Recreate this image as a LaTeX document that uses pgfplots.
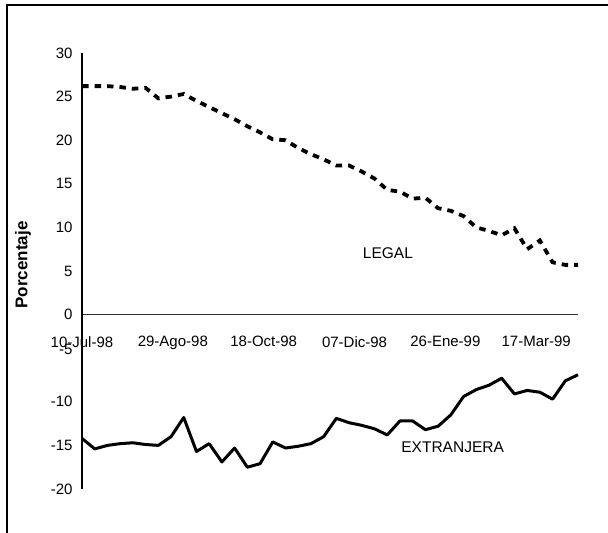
\documentclass[border=0pt]{standalone}
\usepackage{pgfplots}
\pgfplotsset{compat=1.18}
\usepackage{pgfplotstable}
\usepackage{fontspec}
\setmainfont{Liberation Sans}

\pgfplotstableread{
d v
0 26.2
7 26.2
14 26.2
21 26.1
28 25.9
35 26.0
42 24.8
49 25.0
56 25.3
63 24.5
70 23.8
77 23.1
84 22.4
91 21.6
98 20.9
105 20.1
112 20.0
119 19.1
126 18.4
133 17.8
140 17.1
147 17.1
154 16.4
161 15.6
168 14.3
175 14.1
182 13.3
189 13.4
196 12.2
203 11.9
210 11.3
217 10.0
224 9.6
231 9.1
238 9.9
245 7.5
252 8.5
259 6.0
266 5.7
273 5.7
}\legal

\pgfplotstableread{
d v
0 -14.2
7 -15.4
14 -15.0
21 -14.8
28 -14.7
35 -14.9
42 -15.0
49 -14.0
56 -11.8
63 -15.7
70 -14.8
77 -16.9
84 -15.3
91 -17.5
98 -17.1
105 -14.6
112 -15.3
119 -15.1
126 -14.8
133 -14.0
140 -11.9
147 -12.4
154 -12.7
161 -13.1
168 -13.8
175 -12.2
182 -12.2
189 -13.2
196 -12.8
203 -11.5
210 -9.4
217 -8.6
224 -8.1
231 -7.3
238 -9.1
245 -8.7
252 -8.9
259 -9.7
266 -7.6
273 -6.9
}\extranjera

\begin{document}
\begin{tikzpicture}[x=1pt,y=1pt]
\useasboundingbox (0,0) rectangle (608,533);
\draw[line width=2.2pt] (7,0) -- (7,528) -- (608,528);
\node[rotate=90,font=\fontsize{17}{20}\selectfont\bfseries] at (23,268) {Porcentaje};
\begin{axis}[
  at={(82pt,44pt)}, anchor=south west,
  scale only axis, width=496pt, height=436pt,
  xmin=0, xmax=273, ymin=-20, ymax=30,
  clip=false,
  axis y line=left, axis x line=middle,
  hide obscured x ticks=false,
  hide obscured y ticks=false,
  axis line style={-},
  y axis line style={line width=1.1pt, black},
  x axis line style={line width=1.8pt, black!80},
  major tick length=0pt,
  xtick={0,50,100,150,200,250},
  xticklabels={10-Jul-98,29-Ago-98,18-Oct-98,07-Dic-98,26-Ene-99,17-Mar-99},
  ytick={-20,-15,-10,0,5,10,15,20,25,30},
  extra y ticks={-5},
  extra y tick style={yticklabel style={yshift=9pt}},
  /pgf/number format/assume math mode=true,
  tick label style={font=\fontsize{15}{17}\selectfont},
  yticklabel style={anchor=east, xshift=-6pt},
  xticklabel style={anchor=north, yshift=-18pt},
]
\addplot[black, line width=3.8pt, line cap=butt, dash pattern=on 6.5pt off 6pt] table[x=d,y=v] {\legal};
\addplot[black, line width=3pt, line join=round] table[x=d,y=v] {\extranjera};
\node[font=\fontsize{15.5}{18}\selectfont] at (axis cs:168.4,7.0) {LEGAL};
\node[font=\fontsize{15.5}{18}\selectfont] at (axis cs:204,-15.25) {EXTRANJERA};
\end{axis}
\end{tikzpicture}
\end{document}
